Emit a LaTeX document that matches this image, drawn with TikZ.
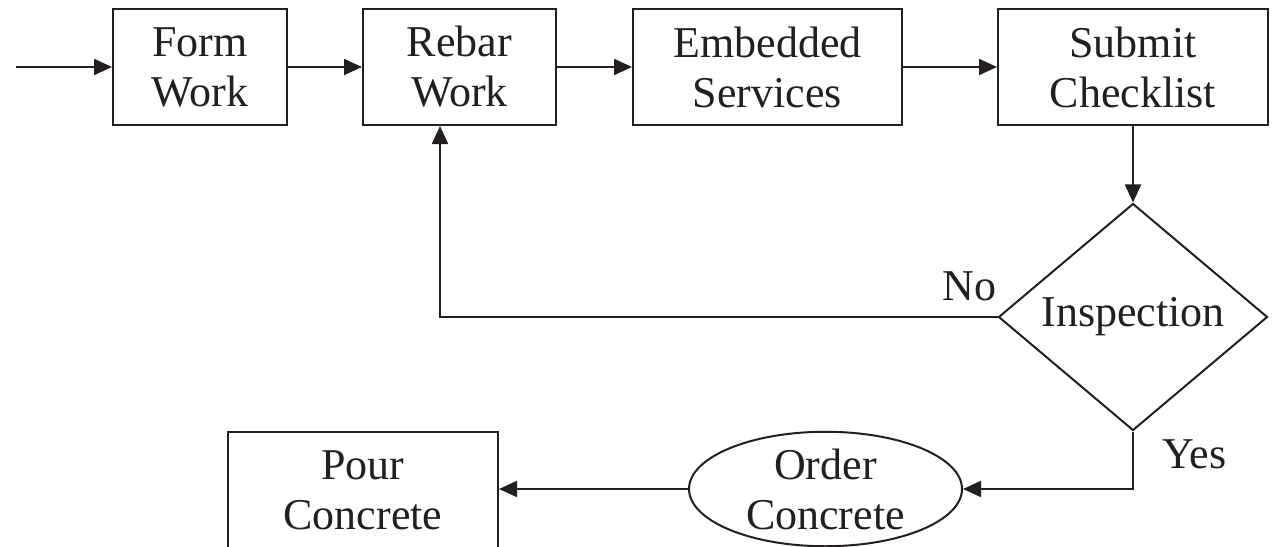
\documentclass[tikz,border=0pt]{standalone}
\usepackage{fontspec}
\setmainfont{Liberation Serif}
\usetikzlibrary{arrows.meta,shapes.geometric}
\definecolor{ink}{HTML}{231F20}
\begin{document}
\begin{tikzpicture}[x=0.5pt,y=-0.5pt,
  every node/.style={font=\fontsize{22pt}{25pt}\selectfont, align=center, text=ink},
  stepbox/.style={draw=ink, line width=1pt, minimum height=58pt, inner sep=0pt},
  decision/.style={diamond, draw=ink, line width=1pt, inner sep=0pt,
    minimum width=134.5pt, minimum height=113.5pt},
  terminal/.style={ellipse, draw=ink, line width=1pt, inner sep=0pt,
    minimum width=136.5pt, minimum height=56.5pt},
  flow/.style={draw=ink, line width=1pt, -{Triangle[length=9pt,width=8pt]}}]
\useasboundingbox (0,0) rectangle (1278,546);

% process steps along the top row
\node[stepbox, minimum width=87pt]    (form)  at (200,67)    {Form\\Work};
\node[stepbox, minimum width=96.5pt]  (rebar) at (459.5,67)  {Rebar\\Work};
\node[stepbox, minimum width=134.5pt] (emb)   at (767.5,67)  {Embedded\\Services};
\node[stepbox, minimum width=135pt]   (sub)   at (1133,67)   {Submit\\Checklist};

% inspection decision and the concrete steps
\node[decision] (insp)  at (1133,317)  {Inspection};
\node[terminal] (order) at (825.5,489) {Order\\Concrete};
\node[stepbox, minimum width=135pt] (pour) at (363,490) {Pour\\Concrete};

\coordinate (start) at (16,67);

% branch labels
\node[anchor=base east, inner sep=0pt] (no)  at (997,300)  {No};
\node[anchor=base west, inner sep=0pt] (yes) at (1162,468) {Yes};

% connectors
\draw[flow] (start) -- (form);
\draw[flow] (form) -- (rebar);
\draw[flow] (rebar) -- (emb);
\draw[flow] (emb) -- (sub);
\draw[flow] (sub) -- (insp);
\draw[flow] (insp.west) -| ([xshift=-9.75pt]rebar.south);
\draw[flow] (insp.south) |- (order.east);
\draw[flow] (order.west) -- (order.west -| pour.east);
\end{tikzpicture}
\end{document}
